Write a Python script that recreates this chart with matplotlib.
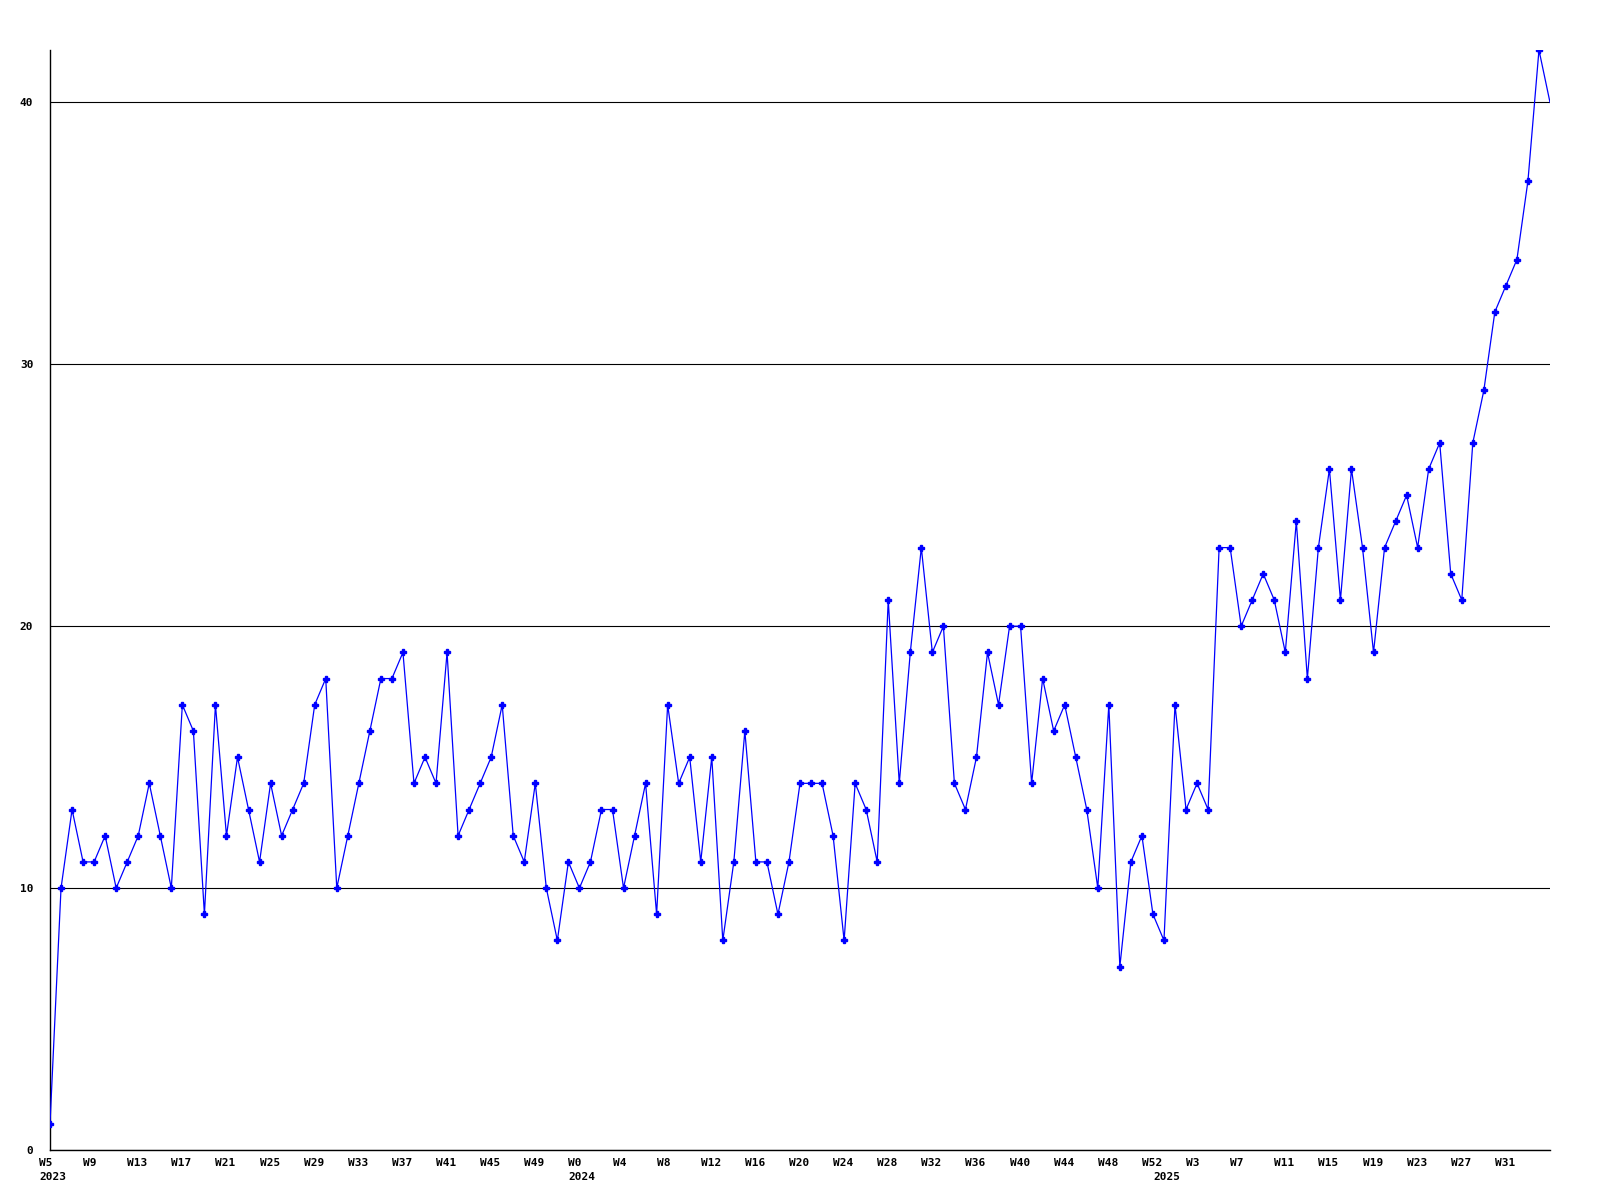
import matplotlib
matplotlib.use('Agg')
import matplotlib.pyplot as plt

# weekly counts, 2023 W5 .. 2025 W35
values_2023 = [1, 10, 13, 11, 11, 12, 10, 11, 12, 14, 12, 10, 17, 16, 9, 17,
               12, 15, 13, 11, 14, 12, 13, 14, 17, 18, 10, 12, 14, 16, 18, 18,
               19, 14, 15, 14, 19, 12, 13, 14, 15, 17, 12, 11, 14, 10, 8, 11]
values_2024 = [10, 11, 13, 13, 10, 12, 14, 9, 17, 14, 15, 11, 15, 8, 11, 16,
               11, 11, 9, 11, 14, 14, 14, 12, 8, 14, 13, 11, 21, 14, 19, 23,
               19, 20, 14, 13, 15, 19, 17, 20, 20, 14, 18, 16, 17, 15, 13, 10,
               17, 7, 11, 12, 9]
values_2025 = [8, 17, 13, 14, 13, 23, 23, 20, 21, 22, 21, 19, 24, 18, 23, 26,
               21, 26, 23, 19, 23, 24, 25, 23, 26, 27, 22, 21, 27, 29, 32, 33,
               34, 37, 42, 40]

weeks_2023 = list(range(5, 53))
weeks_2024 = list(range(0, 53))
weeks_2025 = list(range(0, 36))

years = [2023] * len(weeks_2023) + [2024] * len(weeks_2024) + [2025] * len(weeks_2025)
weeks = weeks_2023 + weeks_2024 + weeks_2025
values = values_2023 + values_2024 + values_2025
x = list(range(len(values)))

plt.rcParams['font.family'] = 'DejaVu Sans Mono'
plt.rcParams['font.weight'] = 'bold'

fig = plt.figure(figsize=(16, 12), dpi=100)
ax = fig.add_axes([50 / 1600, 50 / 1200, 1500 / 1600, 1100 / 1200])

ax.plot(x, values, color='#0000ff', linewidth=0.9, marker='P', markersize=4,
        markevery=slice(0, len(values) - 1), zorder=3)

ax.set_xlim(0, len(values) - 1)
ax.set_ylim(0, 42)

ax.set_yticks([0, 10, 20, 30, 40])
ax.set_yticklabels(['0', '10', '20', '30', '40'], fontsize=8, fontweight='bold')
ax.grid(axis='y', color='black', linewidth=0.8)
ax.set_axisbelow(True)
ax.tick_params(axis='y', length=0, pad=12)
ax.set_xticks([])

# week labels every 4 weeks (not on the last, partial week), year under first week of each year
for i in x[:-1]:
    if i % 4 == 0:
        ax.annotate(f'W{weeks[i]}', xy=(i, 0), xycoords=('data', 'axes fraction'),
                    xytext=(-11, -13), textcoords='offset pixels',
                    ha='left', va='center', fontsize=8, fontweight='bold')
    if i == 0 or weeks[i] == 0:
        ax.annotate(str(years[i]), xy=(i, 0), xycoords=('data', 'axes fraction'),
                    xytext=(-11, -27), textcoords='offset pixels',
                    ha='left', va='center', fontsize=8, fontweight='bold')

ax.spines['top'].set_visible(False)
ax.spines['right'].set_visible(False)
ax.spines['left'].set_linewidth(1.0)
ax.spines['bottom'].set_linewidth(1.0)

fig.savefig('out.png', dpi=100)
